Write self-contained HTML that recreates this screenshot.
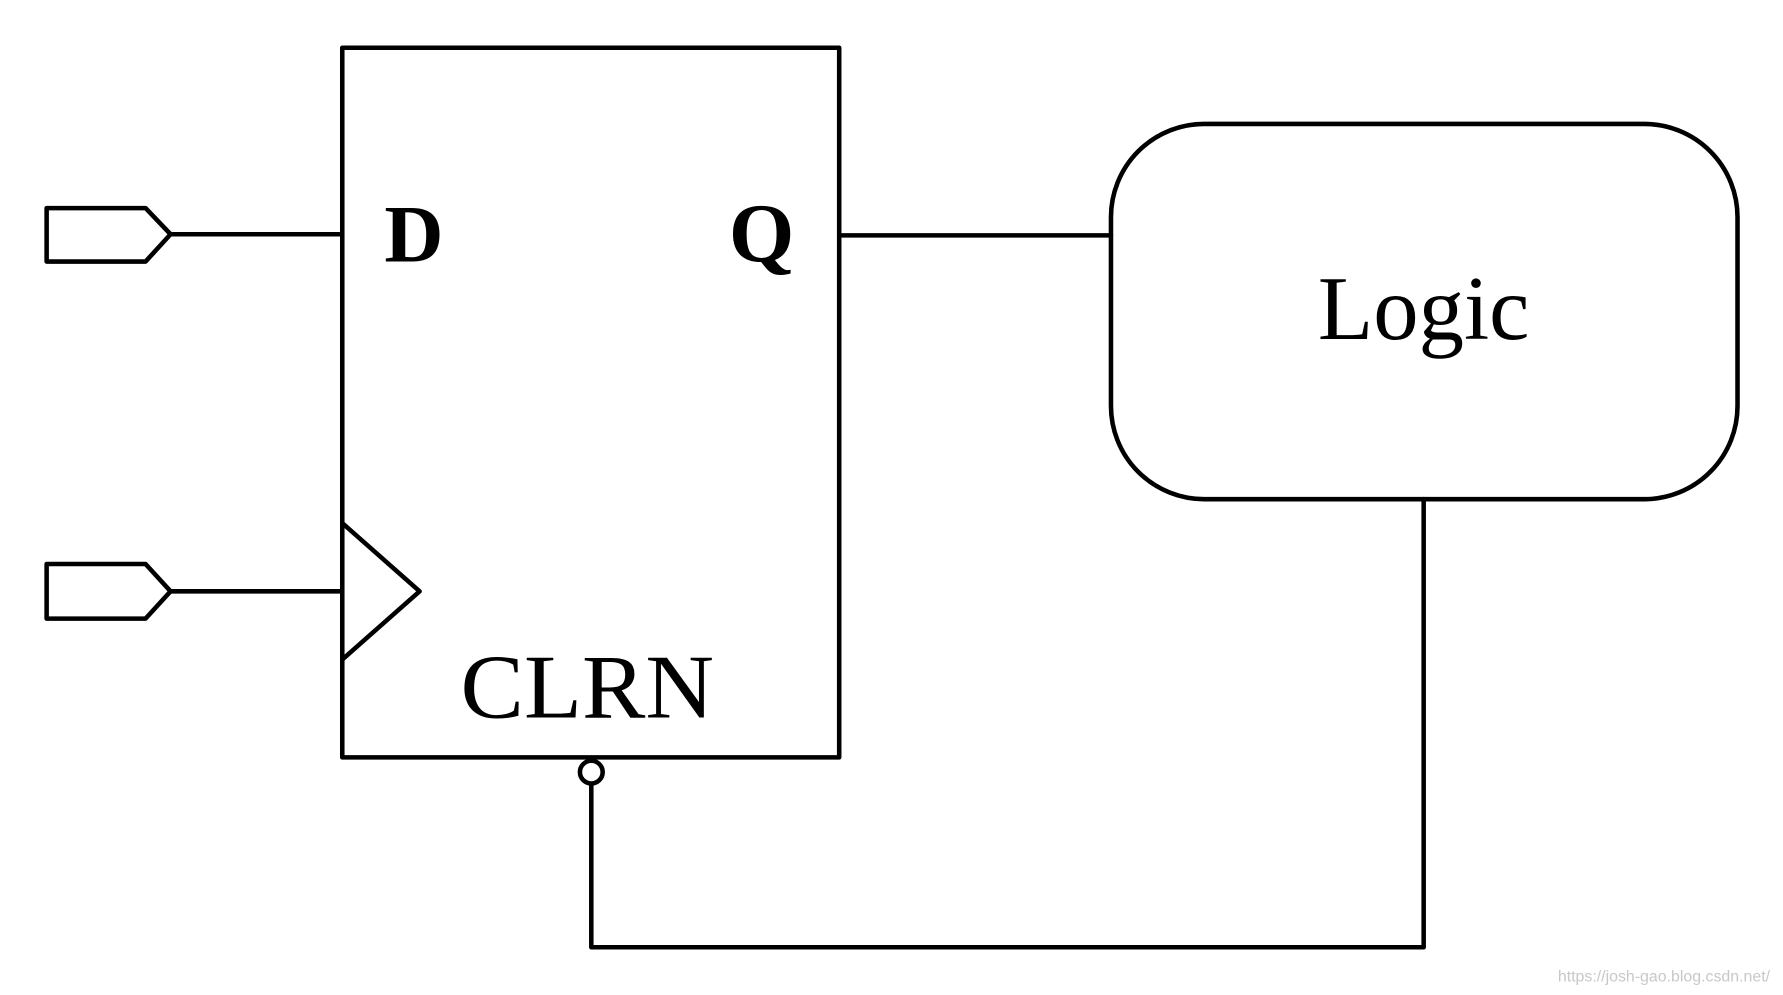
<!DOCTYPE html>
<html><head><meta charset="utf-8"><style>
html,body{margin:0;padding:0;background:#fff;}
svg{display:block;}
</style></head><body>
<svg width="1783" height="995" viewBox="0 0 1568 875" preserveAspectRatio="none" xmlns="http://www.w3.org/2000/svg">
<g fill="none" stroke="#000" stroke-width="4" stroke-linejoin="round" stroke-linecap="round">
<rect x="301" y="42" width="437" height="624"/>
<polygon points="41,183 128,183 150,206 128,230 41,230"/>
<line x1="150" y1="206" x2="301" y2="206"/>
<polygon points="41,496 128,496 150,520 128,544 41,544"/>
<line x1="150" y1="520" x2="301" y2="520"/>
<polyline points="301,460 369,520 301,580"/>
<line x1="738" y1="207" x2="977" y2="207"/>
<rect x="977" y="109" width="551" height="330" rx="82" ry="82"/>
<polyline points="1252,439 1252,833 520,833 520,690"/>
<circle cx="520" cy="679" r="10"/>
</g>
<g font-family="'Liberation Serif', serif" fill="#000">
<text x="338" y="230" font-size="72" font-weight="bold">D</text>
<text x="641" y="230" font-size="74" font-weight="bold">Q</text>
<text x="405" y="631" font-size="80" textLength="223" lengthAdjust="spacingAndGlyphs">CLRN</text>
<text x="1159" y="298" font-size="80" textLength="186" lengthAdjust="spacingAndGlyphs">Logic</text>
</g>
<text x="1370" y="863" font-family="'Liberation Sans', sans-serif" font-size="14" fill="#c8c8c8">https://josh-gao.blog.csdn.net/</text>
</svg>
</body></html>
